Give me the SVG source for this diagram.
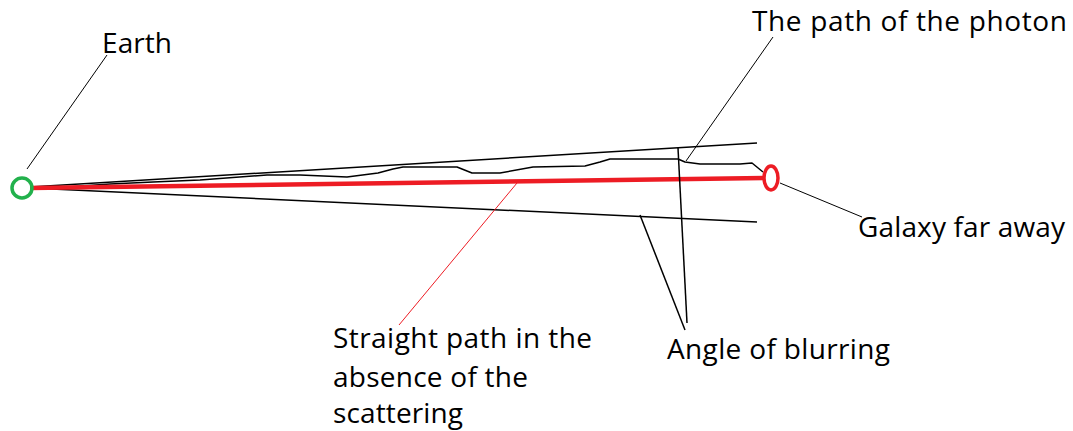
<svg xmlns="http://www.w3.org/2000/svg" width="1073" height="431" viewBox="0 0 1073 431">
  <style>
    .lbl { font-family: "Open Sans", "Liberation Sans", sans-serif; font-size: 28px; fill: #000; }
    .ray { fill: none; stroke: #000; stroke-width: 1.5; stroke-linejoin: round; }
    .lead { fill: none; stroke: #000; stroke-width: 1; }
  </style>
  <rect width="1073" height="431" fill="#fff"/>
  <g id="connectors">
    <line class="ray" x1="30" y1="187" x2="757" y2="143"/>
    <line class="ray" x1="30" y1="188" x2="757" y2="222"/>
    <polyline class="ray" points="30,188 67,187 110,184 153,182 200,180 267,175 300,175 347,177 378,173 393,169 403,167 457,167 472,173 500,173 533,167 585,166 600,162 610,159 678,159 685,162 700,164 740,164 752,163 763,172"/>
    <line x1="30" y1="188" x2="765" y2="178" stroke="#ed1c24" stroke-width="4.5"/>
    <line class="lead" x1="27" y1="169" x2="107" y2="55"/>
    <line class="lead" x1="686" y1="161" x2="773" y2="37"/>
    <line class="lead" x1="780" y1="183" x2="862" y2="217"/>
    <line x1="517" y1="183" x2="399" y2="325" stroke="#ed1c24" stroke-width="1"/>
    <line class="ray" x1="678" y1="148" x2="687" y2="323"/>
    <line class="ray" x1="640" y1="215" x2="685" y2="330"/>
  </g>
  <g id="earth">
    <circle cx="22" cy="188" r="10" fill="none" stroke="#22b14c" stroke-width="3.5"/>
    <text class="lbl" x="102" y="53" textLength="70">Earth</text>
  </g>
  <g id="galaxy">
    <ellipse cx="771" cy="178" rx="7" ry="12" fill="none" stroke="#ed1c24" stroke-width="3.5"/>
    <text class="lbl" x="858" y="237" textLength="207">Galaxy far away</text>
  </g>
  <g id="photon-label">
    <text class="lbl" x="752" y="31" textLength="315">The path of the photon</text>
  </g>
  <g id="straight-label">
    <text class="lbl" x="333" y="348" textLength="259">Straight path in the</text>
    <text class="lbl" x="333" y="387" textLength="195">absence of the</text>
    <text class="lbl" x="333" y="423" textLength="130">scattering</text>
  </g>
  <g id="angle-label">
    <text class="lbl" x="667" y="359" textLength="223">Angle of blurring</text>
  </g>
</svg>
